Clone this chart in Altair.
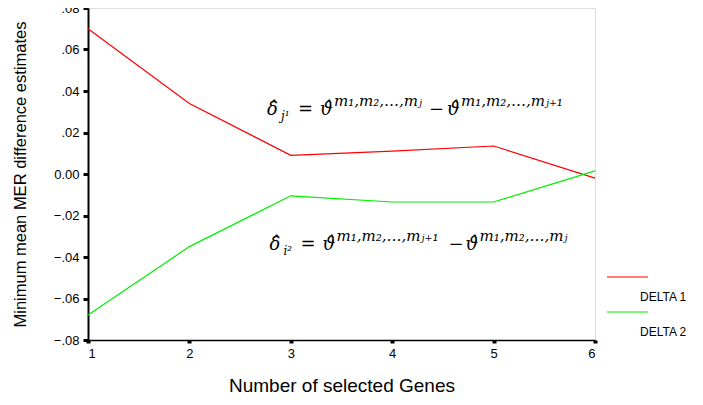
import altair as alt
import pandas as pd

genes = [1, 2, 3, 4, 5, 6]
delta1 = [0.070, 0.034, 0.009, 0.011, 0.0135, -0.002]
delta2 = [-0.068, -0.035, -0.0105, -0.0135, -0.0135, 0.0015]
series = ["DELTA 1", "DELTA 2"]
colors = ["#ff0000", "#00ee00"]
y_ticks = [-0.08, -0.06, -0.04, -0.02, 0.0, 0.02, 0.04, 0.06, 0.08]

rows = []
for g, a, b in zip(genes, delta1, delta2):
    rows.append({"genes": g, "value": a, "series": series[0]})
    rows.append({"genes": g, "value": b, "series": series[1]})
df = pd.DataFrame(rows)
one = pd.DataFrame({"k": [0]})

xs = alt.Scale(domain=[1, 6], nice=False, zero=False)
ys = alt.Scale(domain=[-0.08, 0.08], nice=False, zero=False)

lines = alt.Chart(df).mark_line(strokeWidth=1.2, clip=False).encode(
    x=alt.X("genes:Q", scale=xs,
            axis=alt.Axis(values=genes, format="d", title="Number of selected Genes",
                          titlePadding=16, labelPadding=4, tickSize=3, tickWidth=4,
                          domainColor="#000", domainWidth=1.5, tickColor="#000",
                          labelFontSize=13, titleFontSize=19, titleFontWeight="normal",
                          labelFont="Liberation Sans", titleFont="Liberation Sans",
                          labelColor="#000", titleColor="#000", grid=False)),
    y=alt.Y("value:Q", scale=ys,
            axis=alt.Axis(values=y_ticks,
                          labelExpr="datum.value == 0 ? '0.00' : replace(format(datum.value, '.2f'), '0.', '.')",
                          title="Minimum mean MER difference estimates",
                          titlePadding=25, labelPadding=4, tickSize=5, tickWidth=3,
                          domainColor="#000", domainWidth=2, tickColor="#000",
                          labelFontSize=13, titleFontSize=16.5, titleFontWeight="normal",
                          labelFont="Liberation Sans", titleFont="Liberation Sans",
                          labelColor="#000", titleColor="#000", grid=False)),
    stroke=alt.Stroke("series:N", scale=alt.Scale(domain=series, range=colors), legend=None),
)

# legend drawn beside the plot, SPSS style (line above its label)
legend_layers = []
for i, (name, col) in enumerate(zip(series, colors)):
    y0 = 269 + 35 * i
    legend_layers.append(
        alt.Chart(one).mark_rule(stroke=col, strokeWidth=1.2)
        .encode(x=alt.value(519), x2=alt.value(560), y=alt.value(y0))
    )
    legend_layers.append(
        alt.Chart(one).mark_text(text=name, align="left", baseline="middle", fontSize=12,
                                 font="Liberation Sans", fill="#000")
        .encode(x=alt.value(552), y=alt.value(y0 + 20))
    )

serif = "DejaVu Serif"
# (text, dx, dy, size)
f1 = [("δ̂", 0, 0, 18), ("j¹", 14, 5, 12), ("=", 31, 0, 18), ("ϑ̂", 53, 0, 18),
      ("m₁,m₂,…,mⱼ", 67, -9, 15), ("−", 162, 0, 18), ("ϑ̂", 180, 0, 18),
      ("m₁,m₂,…,mⱼ₊₁", 194, -9, 15)]
f2 = [("δ̂", 0, 0, 18), ("i²", 14, 5, 12), ("=", 31, 0, 18), ("ϑ̂", 53, 0, 18),
      ("m₁,m₂,…,mⱼ₊₁", 67, -9, 15), ("−", 179, 0, 18), ("ϑ̂", 196, 0, 18),
      ("m₁,m₂,…,mⱼ", 210, -9, 15)]

texts = []
for anchor, pieces in (((2.765, 0.0284), f1), ((2.79, -0.0366), f2)):
    for t, dx, dy, sz in pieces:
        texts.append(
            alt.Chart(one).mark_text(text=t, align="left", baseline="alphabetic", dx=dx, dy=dy,
                                     fontSize=sz, font=serif, fontStyle="italic",
                                     fontWeight="normal", fill="#000")
            .encode(x=alt.X(datum=anchor[0], scale=xs), y=alt.Y(datum=anchor[1], scale=ys))
        )

chart = alt.layer(lines, *legend_layers, *texts).properties(
    width=507, height=332,
    autosize=alt.AutoSizeParams(type="none"),
    padding={"left": 80, "top": 0, "right": 100, "bottom": 57},
).configure_view(stroke="#222", strokeWidth=1.5).configure(background="white")

chart.save("out.html", embed_options={"renderer": "svg", "actions": False})
